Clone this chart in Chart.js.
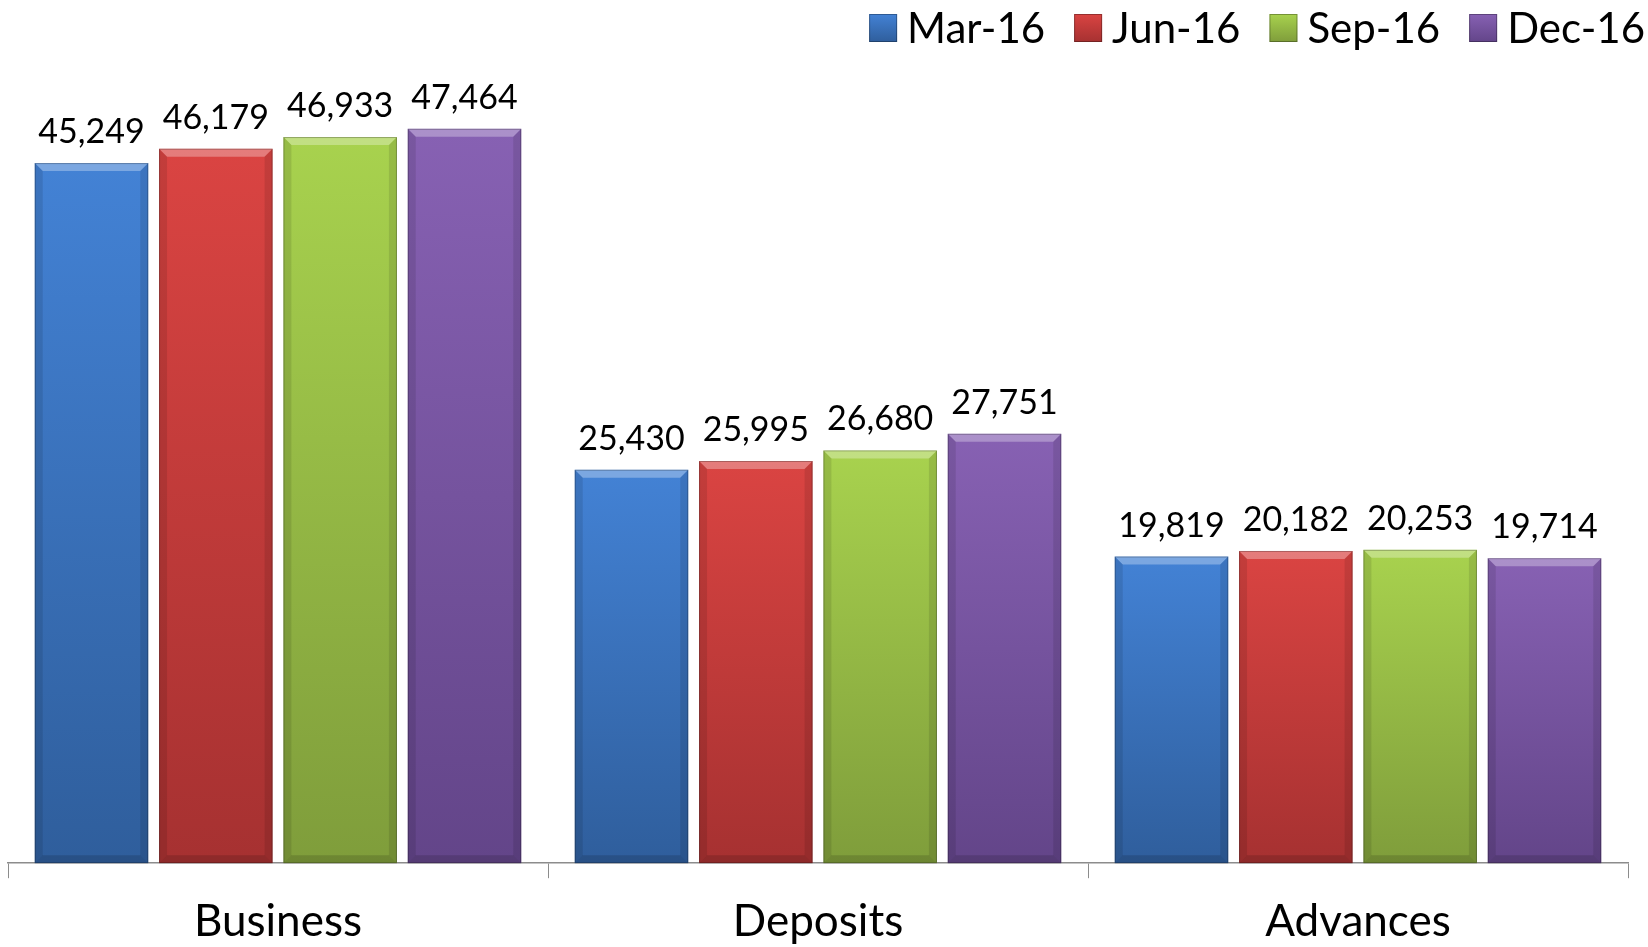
<!DOCTYPE html>
<html>
<head>
<meta charset="utf-8">
<script src="https://cdn.jsdelivr.net/npm/chart.js@4.4.1/dist/chart.umd.min.js"></script>
<style>
  html, body { margin: 0; padding: 0; background: #ffffff; }
  #wrap { width: 1648px; height: 947px; position: relative; }
</style>
</head>
<body>
<div id="wrap"><canvas id="chart"></canvas></div>
<script>
const categories = ['Business', 'Deposits', 'Advances'];
const seriesLabels = ['Mar-16', 'Jun-16', 'Sep-16', 'Dec-16'];
const mar16 = [45249, 25430, 19819];
const jun16 = [46179, 25995, 20182];
const sep16 = [46933, 26680, 20253];
const dec16 = [47464, 27751, 19714];

const topColors = ['#4382d5', '#da4442', '#a8d24e', '#8761b3'];
const bottomColors = ['#2f5e9c', '#a63131', '#7f9d3b', '#634589'];
const FONT = 'Lato, "Open Sans", sans-serif';

const barFill = (index) => (context) => {
  const chart = context.chart;
  const yScale = chart.scales.y;
  if (!chart.chartArea || !yScale || context.raw == null) {
    return topColors[index];
  }
  const top = yScale.getPixelForValue(context.raw);
  const bottom = yScale.getPixelForValue(0);
  const gradient = chart.ctx.createLinearGradient(0, top, 0, bottom);
  gradient.addColorStop(0, topColors[index]);
  gradient.addColorStop(1, bottomColors[index]);
  return gradient;
};

const bevelPlugin = {
  id: 'bevel',
  afterDatasetsDraw(chart) {
    const ctx = chart.ctx;
    chart.data.datasets.forEach((dataset, datasetIndex) => {
      const meta = chart.getDatasetMeta(datasetIndex);
      meta.data.forEach((bar) => {
        const { x, y, base, width } = bar.getProps(['x', 'y', 'base', 'width'], true);
        const left = x - width / 2;
        const right = x + width / 2;
        const b = 8;
        ctx.save();
        ctx.fillStyle = 'rgba(255,255,255,0.3)';
        ctx.beginPath();
        ctx.moveTo(left, y);
        ctx.lineTo(right, y);
        ctx.lineTo(right - b, y + b);
        ctx.lineTo(left + b, y + b);
        ctx.closePath();
        ctx.fill();
        ctx.fillStyle = 'rgba(0,0,0,0.10)';
        ctx.beginPath();
        ctx.moveTo(left, y);
        ctx.lineTo(left + b, y + b);
        ctx.lineTo(left + b, base - b);
        ctx.lineTo(left, base);
        ctx.closePath();
        ctx.fill();
        ctx.beginPath();
        ctx.moveTo(right, y);
        ctx.lineTo(right - b, y + b);
        ctx.lineTo(right - b, base - b);
        ctx.lineTo(right, base);
        ctx.closePath();
        ctx.fill();
        ctx.fillStyle = 'rgba(0,0,0,0.14)';
        ctx.beginPath();
        ctx.moveTo(left, base);
        ctx.lineTo(left + b, base - b);
        ctx.lineTo(right - b, base - b);
        ctx.lineTo(right, base);
        ctx.closePath();
        ctx.fill();
        ctx.strokeStyle = 'rgba(0,0,0,0.25)';
        ctx.lineWidth = 1;
        ctx.strokeRect(left + 0.5, y + 0.5, width - 1, base - y - 1);
        ctx.restore();
      });
    });
  },
};

const valueLabelPlugin = {
  id: 'valueLabels',
  afterDatasetsDraw(chart) {
    const ctx = chart.ctx;
    ctx.save();
    ctx.font = '34px ' + FONT;
    ctx.fillStyle = '#000000';
    ctx.textAlign = 'center';
    ctx.textBaseline = 'alphabetic';
    chart.data.datasets.forEach((dataset, datasetIndex) => {
      const meta = chart.getDatasetMeta(datasetIndex);
      meta.data.forEach((bar, index) => {
        const value = dataset.data[index];
        ctx.fillText(value.toLocaleString('en-US'), bar.x, bar.y - 20);
      });
    });
    ctx.restore();
  },
};

const legendPlugin = {
  id: 'topLegend',
  afterDraw(chart) {
    const ctx = chart.ctx;
    ctx.save();
    ctx.font = '42px ' + FONT;
    ctx.textBaseline = 'middle';
    ctx.textAlign = 'left';
    const box = 28;
    const gap = 10;
    const spacing = 29;
    const centerY = 28;
    const items = chart.data.datasets.map((dataset, index) => ({
      label: dataset.label,
      index,
      width: box + gap + ctx.measureText(dataset.label).width,
    }));
    let x = 1645 - items.reduce((sum, item) => sum + item.width, 0) - spacing * (items.length - 1);
    items.forEach((item) => {
      const gradient = ctx.createLinearGradient(0, centerY - box / 2, 0, centerY + box / 2);
      gradient.addColorStop(0, topColors[item.index]);
      gradient.addColorStop(1, bottomColors[item.index]);
      ctx.fillStyle = gradient;
      ctx.fillRect(x, centerY - box / 2, box, box);
      ctx.strokeStyle = 'rgba(0,0,0,0.3)';
      ctx.lineWidth = 1;
      ctx.strokeRect(x + 0.5, centerY - box / 2 + 0.5, box - 1, box - 1);
      ctx.fillStyle = '#000000';
      ctx.fillText(item.label, x + box + gap, centerY + 1);
      x += item.width + spacing;
    });
    ctx.restore();
  },
};

new Chart(document.getElementById('chart'), {
  type: 'bar',
  data: {
    labels: categories,
    datasets: [
      { label: seriesLabels[0], data: mar16, backgroundColor: barFill(0) },
      { label: seriesLabels[1], data: jun16, backgroundColor: barFill(1) },
      { label: seriesLabels[2], data: sep16, backgroundColor: barFill(2) },
      { label: seriesLabels[3], data: dec16, backgroundColor: barFill(3) },
    ],
  },
  options: {
    responsive: true,
    maintainAspectRatio: false,
    animation: false,
    categoryPercentage: 0.921,
    barPercentage: 0.913,
    layout: { padding: { top: 80, left: 8, right: 20, bottom: -18 } },
    plugins: {
      legend: { display: false },
      tooltip: { enabled: false },
    },
    scales: {
      x: {
        grid: {
          offset: true,
          drawOnChartArea: false,
          drawTicks: true,
          tickLength: 15,
          color: '#8c8c8c',
        },
        border: { color: '#8c8c8c', width: 1.5 },
        ticks: {
          color: '#000000',
          padding: 17,
          font: { family: FONT, size: 44, lineHeight: 1.2 },
        },
      },
      y: {
        display: false,
        min: 0,
        max: 50620,
      },
    },
  },
  plugins: [bevelPlugin, valueLabelPlugin, legendPlugin],
});
</script>
</body>
</html>
